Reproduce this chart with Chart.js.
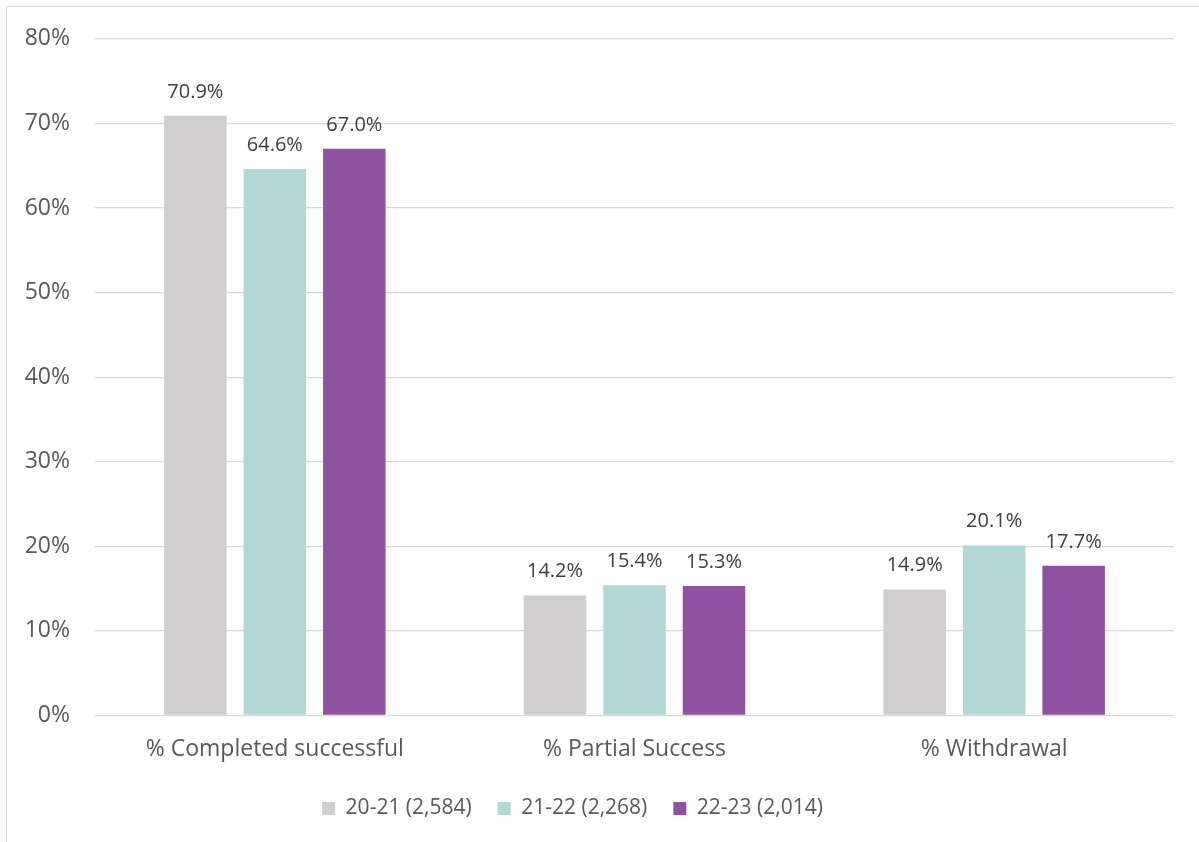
<!DOCTYPE html>
<html>
<head>
<meta charset="utf-8">
<script src="https://cdn.jsdelivr.net/npm/chart.js@4.4.1/dist/chart.umd.min.js"></script>
<style>
    html, body { margin: 0; padding: 0; background: #ffffff; overflow: hidden; }
    .frame {
        position: absolute; left: 6px; top: 6px; width: 1300px; height: 900px;
        border: 1.5px solid #d9d9d9; box-sizing: border-box;
    }
    #outcomeChart { position: absolute; left: 0; top: 0; }
</style>
</head>
<body>
<div class="frame"></div>
<canvas id="outcomeChart" width="1199" height="842"></canvas>
<script>
// Outcome categories and yearly shares (%)
const categories = ['% Completed successful', '% Partial Success', '% Withdrawal'];
const years = ['20-21 (2,584)', '21-22 (2,268)', '22-23 (2,014)'];
const values2021 = [70.9, 14.2, 14.9];
const values2122 = [64.6, 15.4, 20.1];
const values2223 = [67.0, 15.3, 17.7];
const yTicks = [0, 10, 20, 30, 40, 50, 60, 70, 80];

const colours = ['#d0cece', '#b2d7d5', '#8f52a0'];
const FONT = "'Open Sans', 'Noto Sans', sans-serif";
const LEGEND_SHIFT = -27;

// Writes the value above each bar
const barValueLabels = {
    id: 'barValueLabels',
    afterDatasetsDraw(chart) {
        const ctx = chart.ctx;
        ctx.save();
        ctx.font = `20px ${FONT}`;
        ctx.fillStyle = '#404040';
        ctx.textAlign = 'center';
        ctx.textBaseline = 'alphabetic';
        chart.data.datasets.forEach((ds, di) => {
            chart.getDatasetMeta(di).data.forEach((bar, i) => {
                ctx.fillText(ds.data[i].toFixed(1) + '%', bar.x, bar.y - 18);
            });
        });
        ctx.restore();
    }
};

// Nudges the legend row left of centre
const legendOffset = {
    id: 'legendOffset',
    afterLayout(chart) {
        chart.legend.left += LEGEND_SHIFT;
        chart.legend.right += LEGEND_SHIFT;
    }
};

const ctx = document.getElementById('outcomeChart').getContext('2d');

new Chart(ctx, {
    type: 'bar',
    data: {
        labels: categories,
        datasets: [values2021, values2122, values2223].map((vals, i) => ({
            label: years[i],
            data: vals,
            backgroundColor: colours[i],
            borderWidth: 0,
            categoryPercentage: 0.663,
            barPercentage: 0.786
        }))
    },
    options: {
        responsive: false,
        animation: false,
        layout: { padding: { left: 25, right: 25, top: 37, bottom: 13 } },
        scales: {
            y: {
                min: 0,
                max: 80,
                afterBuildTicks: axis => { axis.ticks = yTicks.map(v => ({ value: v })); },
                afterFit: axis => { axis.width = 70; },
                border: { display: false },
                grid: { color: '#d9d9d9', lineWidth: 1.3, drawTicks: false },
                ticks: {
                    padding: 25,
                    color: '#595959',
                    font: { family: FONT, size: 23 },
                    callback: v => v + '%'
                }
            },
            x: {
                afterFit: axis => { axis.height = 56.5; },
                border: { display: false },
                grid: { display: false, drawTicks: false },
                ticks: {
                    padding: 20,
                    color: '#595959',
                    font: { family: FONT, size: 23 }
                }
            }
        },
        plugins: {
            legend: {
                position: 'bottom',
                labels: {
                    boxWidth: 13,
                    boxHeight: 13,
                    padding: 26,
                    color: '#595959',
                    font: { family: FONT, size: 21 }
                }
            },
            tooltip: { enabled: false }
        }
    },
    plugins: [barValueLabels, legendOffset]
});
</script>
</body>
</html>
